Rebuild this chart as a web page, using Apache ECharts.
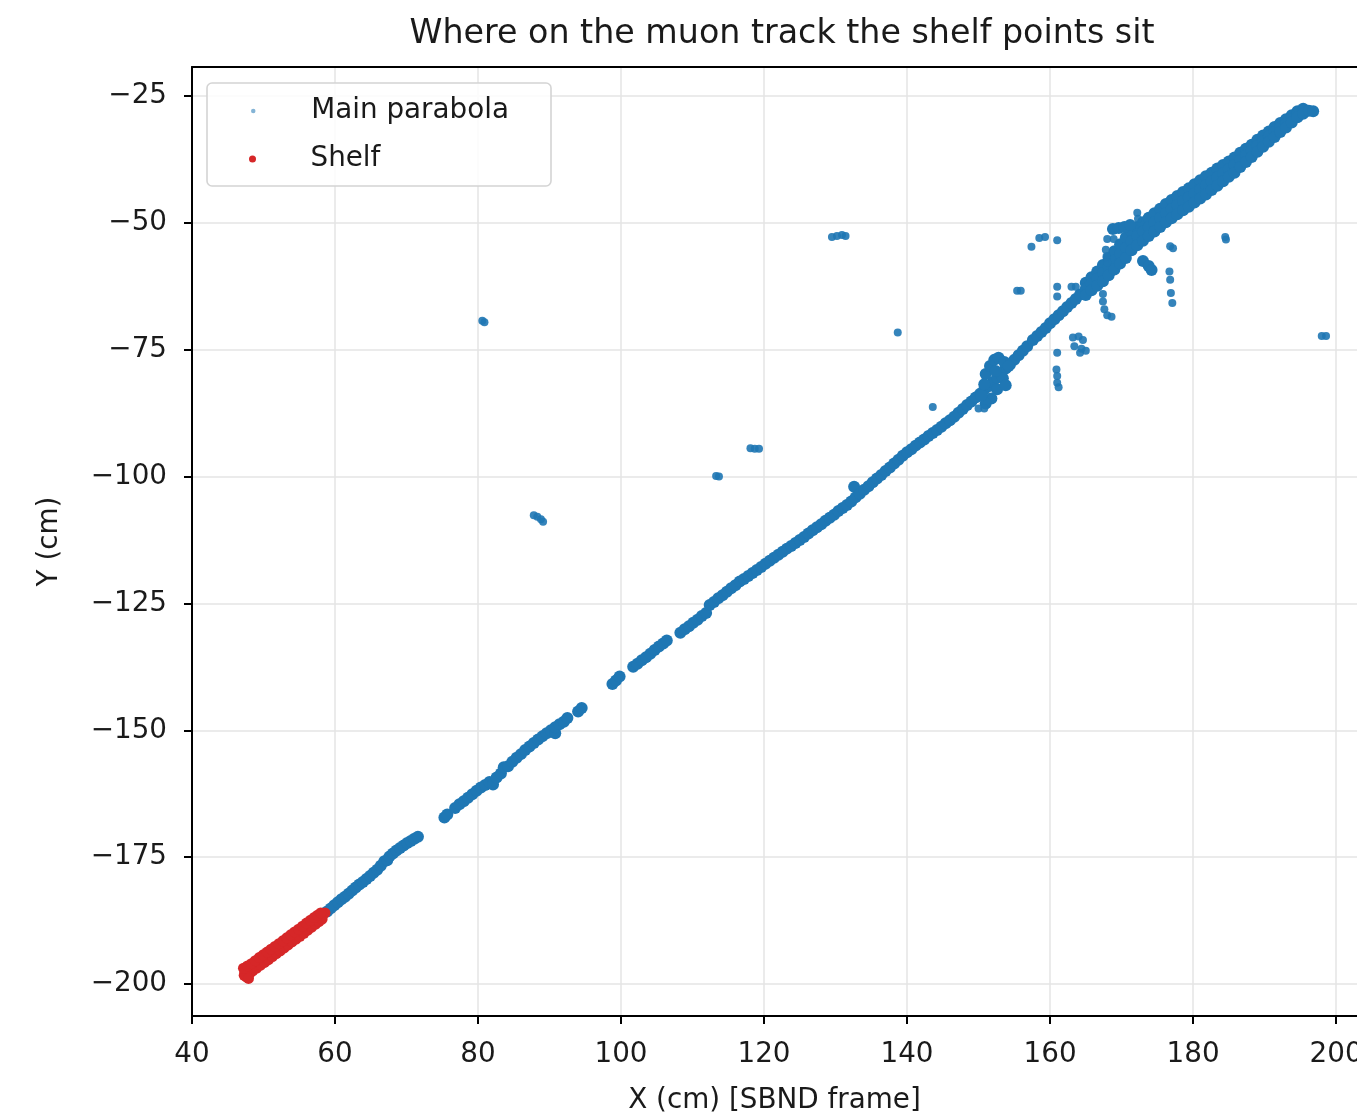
<!DOCTYPE html>
<html>
<head>
<meta charset="utf-8">
<script src="https://cdn.jsdelivr.net/npm/echarts@6/dist/echarts.min.js"></script>
<style>
  html, body { margin: 0; padding: 0; width: 100%; height: 100%; overflow: hidden; background: #ffffff; }
  #chart { position: absolute; left: 0; top: 0; width: 1357px; height: 1115px; }
</style>
</head>
<body>
<div id="chart"></div>
<script>
// Hits along the reconstructed muon track (X, Y in cm, SBND frame)
const mainTrack = [
  // lower section, just above the shelf
  [58.9,-185.7],[59.4,-185.1],[59.9,-184.5],[60.4,-183.9],[60.9,-183.3],[61.4,-182.8],[61.9,-182.2],
  [62.4,-181.6],[62.9,-181.0],[63.4,-180.4],[63.9,-179.9],[64.4,-179.3],[64.9,-178.7],[65.4,-178.1],
  [65.9,-177.5],[66.4,-176.7],[66.9,-175.8],[67.3,-175.6],[67.6,-174.9],[68.1,-174.3],[68.6,-173.7],
  [69.1,-173.2],[69.6,-172.7],[70.1,-172.2],[70.6,-171.8],[71.1,-171.4],[71.6,-171.0],
  [75.3,-167.2],[75.7,-166.6],
  [76.8,-165.3],[77.4,-164.6],[78.0,-164.0],[78.6,-163.3],[79.2,-162.6],[79.8,-161.9],[80.4,-161.3],
  [81.0,-160.8],[81.6,-160.2],[82.1,-160.7],[82.6,-159.3],[83.2,-158.5],[83.6,-157.3],[84.2,-157.1],
  [84.8,-156.2],[85.4,-155.4],[86.0,-154.7],[86.6,-153.9],[87.2,-153.2],[87.8,-152.5],[88.4,-151.8],
  [89.0,-151.2],[89.6,-150.6],[90.2,-150.0],[90.8,-150.6],[90.8,-149.4],[91.4,-148.8],[92.0,-148.3],
  [92.5,-147.6],
  [94.0,-146.3],[94.5,-145.6],
  [98.8,-140.9],[99.3,-140.2],[99.8,-139.4],
  [101.7,-137.5],[102.3,-136.9],[102.9,-136.2],[103.5,-135.6],[104.1,-134.9],[104.7,-134.2],
  [105.3,-133.5],[105.9,-132.9],[106.4,-132.3],
  [108.3,-130.8],[108.9,-130.1],[109.5,-129.5],[110.1,-128.8],[110.7,-128.2],[111.3,-127.5],[111.9,-126.9],
  // continuous section
  [112.4,-125.3],[113.0,-124.7],[113.6,-124.0],[114.2,-123.4],[114.8,-122.7],[115.4,-122.0],[116.0,-121.4],
  [116.6,-120.7],[117.2,-120.2],[117.8,-119.6],[118.4,-119.0],[119.0,-118.4],[119.6,-117.8],[120.2,-117.2],
  [120.8,-116.6],[121.4,-116.0],[122.0,-115.4],[122.6,-114.8],[123.2,-114.2],[123.8,-113.7],[124.4,-113.1],
  [125.0,-112.5],[125.6,-111.9],[126.2,-111.2],[126.8,-110.6],[127.4,-110.0],[128.0,-109.4],[128.6,-108.7],
  [129.2,-108.1],[129.8,-107.5],[130.4,-106.8],[131.0,-106.2],[131.6,-105.6],[132.2,-104.9],[132.6,-102.0],
  [132.8,-104.1],[133.4,-103.4],[134.0,-102.6],[134.6,-101.9],[135.2,-101.1],[135.8,-100.4],[136.4,-99.7],
  [137.0,-98.9],[137.6,-98.2],[138.2,-97.4],[138.8,-96.7],[139.4,-95.9],[140.0,-95.2],[140.6,-94.6],
  [141.2,-93.9],[141.8,-93.3],[142.4,-92.7],[143.0,-92.0],[143.6,-91.4],[144.2,-90.8],[144.8,-90.2],
  [145.4,-89.5],[146.0,-88.9],[146.6,-88.2],[147.2,-87.4],[147.8,-86.7],[148.4,-85.9],[149.0,-85.2],
  [149.6,-84.4],[150.2,-83.7],[150.8,-82.9],[151.4,-82.2],[152.0,-81.4],[152.6,-80.5],[153.2,-79.6],
  [153.8,-78.7],[154.4,-77.9],[155.0,-77.0],[155.6,-76.1],[156.2,-75.2],[156.8,-74.3],[157.6,-73.1],
  [158.2,-72.3],[158.8,-71.5],[159.4,-70.7],[160.0,-69.8],[160.6,-69.0],[161.2,-68.2],[161.8,-67.4],
  [162.4,-66.6],[163.0,-65.8],[163.6,-65.0],[164.2,-64.1]
];

// Dense upper section of the track, read as three rows across its width
const upperBand = [
  [165.0,-61.8],[165.0,-63.0],[165.0,-64.2],[165.8,-60.7],[165.8,-62.0],[165.8,-63.3],
  [166.6,-59.6],[166.6,-61.0],[166.6,-62.4],[167.4,-58.3],[167.4,-59.9],[167.4,-61.5],
  [168.2,-56.9],[168.2,-58.6],[168.2,-60.3],[169.0,-55.6],[169.0,-57.4],[169.0,-59.2],
  [169.8,-54.2],[169.8,-56.1],[169.8,-58.0],[170.6,-52.9],[170.6,-54.9],[170.6,-56.9],
  [171.4,-51.8],[171.4,-53.6],[171.4,-55.4],[172.2,-50.8],[172.2,-52.6],[172.2,-54.4],
  [173.0,-49.9],[173.0,-51.7],[173.0,-53.5],[173.8,-49.0],[173.8,-50.8],[173.8,-52.6],
  [174.6,-48.1],[174.6,-49.9],[174.6,-51.7],[175.4,-47.2],[175.4,-49.0],[175.4,-50.8],
  [176.2,-46.3],[176.2,-48.1],[176.2,-49.9],[177.0,-45.5],[177.0,-47.3],[177.0,-49.1],
  [177.8,-44.7],[177.8,-46.5],[177.8,-48.3],[178.6,-43.9],[178.6,-45.7],[178.6,-47.5],
  [179.4,-43.2],[179.4,-45.0],[179.4,-46.8],[180.2,-42.4],[180.2,-44.2],[180.2,-46.0],
  [181.0,-41.6],[181.0,-43.4],[181.0,-45.2],[181.8,-40.8],[181.8,-42.6],[181.8,-44.4],
  [182.6,-40.1],[182.6,-41.8],[182.6,-43.5],[183.4,-39.3],[183.4,-41.0],[183.4,-42.7],
  [184.2,-38.6],[184.2,-40.2],[184.2,-41.8],[185.0,-37.9],[185.0,-39.4],[185.0,-40.9],
  [185.8,-37.1],[185.8,-38.6],[185.8,-40.1],[186.6,-36.2],[186.6,-37.6],[186.6,-39.0],
  [187.4,-35.4],[187.4,-36.7],[187.4,-38.0],[188.2,-34.6],[188.2,-35.8],[188.2,-37.0],
  [189.0,-33.6],[189.0,-34.8],[189.0,-36.0],[189.8,-32.8],[189.8,-33.9],[189.8,-35.0],
  [190.6,-32.0],[190.6,-33.0],[190.6,-34.0],[191.4,-31.1],[191.4,-32.1],[191.4,-33.1],
  [192.2,-30.3],[192.2,-31.2],[192.2,-32.1],[193.0,-29.6],[193.0,-30.4],[193.0,-31.2],
  [193.8,-28.8],[193.8,-29.5],[193.8,-30.2],[194.6,-28.0],[194.6,-28.6],[194.6,-29.2],
  [195.4,-27.5],[195.4,-28.0],[195.4,-28.5],[196.2,-27.9],[196.8,-28.0],
  // ledge on the upper side and lumps under the band
  [168.8,-51.2],[169.6,-51.0],[170.4,-50.8],[171.2,-50.4],
  [173.0,-57.5],[173.8,-58.5],[174.2,-59.3]
];

// Blob around x = 152 where the track widens
const trackBlob = [
  [151.0,-79.8],[151.6,-78.2],[152.2,-77.0],[152.8,-76.6],[153.6,-77.4],[154.2,-78.2],[153.4,-80.6],
  [152.6,-82.8],[151.8,-84.6],[151.0,-85.6],[150.4,-84.0],[152.4,-79.2],[153.8,-82.0],[150.8,-81.8]
];

// Isolated clusters away from the track
const offTrackHits = [
  [80.6,-69.3],[80.9,-69.6],
  [87.8,-107.6],[88.3,-107.9],[88.8,-108.4],[89.1,-108.9],
  [113.3,-99.9],[113.7,-100.0],
  [118.1,-94.4],[118.7,-94.5],[119.3,-94.5],
  [129.5,-52.8],[130.2,-52.6],[130.9,-52.4],[131.4,-52.6],
  [138.7,-71.6],
  [143.6,-86.3],
  [150.0,-86.6],[150.8,-86.6],
  [155.4,-63.4],[155.9,-63.4],
  [157.4,-54.7],[158.5,-53.0],[159.3,-52.8],[161.0,-53.4],
  [161.0,-62.6],[161.0,-64.5],[163.0,-62.6],[163.6,-62.6],
  [161.0,-75.6],[160.9,-78.9],[161.0,-80.2],[161.0,-81.5],[161.2,-82.4],
  [163.2,-72.6],[164.0,-72.4],[164.6,-73.1],[163.4,-74.3],[164.4,-74.8],[165.0,-75.2],[164.2,-75.6],
  [167.4,-64.0],[167.4,-65.5],[167.6,-67.0],[168.0,-68.2],[168.6,-68.5],
  [168.0,-53.2],[168.9,-53.2],[167.8,-55.3],[167.9,-56.6],[168.0,-57.8],
  [172.2,-48.0],[172.3,-49.2],
  [176.8,-54.6],[177.2,-55.0],[176.7,-59.6],[176.8,-61.2],[176.9,-63.8],[177.1,-65.8],
  [184.5,-52.8],[184.6,-53.3],
  [198.0,-72.3],[198.6,-72.3]
];

// Hits classified as the shelf
const shelfPoints = [
  [47.4,-197.7],[47.8,-197.3],[48.2,-196.9],[48.6,-196.5],[49.0,-196.1],[49.4,-195.6],[49.8,-195.2],
  [50.2,-194.8],[50.6,-194.4],[51.0,-194.0],[51.4,-193.5],[51.8,-193.1],[52.2,-192.7],[52.6,-192.3],
  [53.0,-191.8],[53.4,-191.4],[53.8,-191.0],[54.2,-190.6],[54.6,-190.1],[55.0,-189.7],[55.4,-189.3],
  [55.8,-188.9],[56.2,-188.5],[56.6,-188.1],[57.0,-187.6],[57.4,-187.2],[57.8,-186.8],[58.2,-186.4],
  [58.6,-186.0],
  // lower edge of the shelf
  [47.6,-198.6],[48.05,-198.0],[48.5,-197.4],[49.05,-196.85],[49.6,-196.3],[50.15,-195.75],[50.7,-195.2],
  [51.25,-194.6],[51.8,-194.0],[52.35,-193.45],[52.9,-192.9],[53.45,-192.3],[54.0,-191.7],[54.55,-191.15],
  [55.1,-190.6],[55.65,-190.0],[56.2,-189.4],[56.75,-188.8],[57.3,-188.2],[57.75,-187.7],[58.2,-187.2],
  [47.3,-198.3],[47.9,-198.9],
  // upper edge of the shelf
  [47.2,-196.9],[47.75,-196.45],[48.3,-196.0],[48.85,-195.4],[49.4,-194.8],[49.95,-194.25],[50.5,-193.7],
  [51.05,-193.15],[51.6,-192.6],[52.15,-192.05],[52.7,-191.5],[53.25,-190.9],[53.8,-190.3],[54.35,-189.75],
  [54.9,-189.2],[55.45,-188.6],[56.0,-188.0],[56.55,-187.45],[57.1,-186.9],[57.55,-186.45],[58.0,-186.0]
];

const xTicks = [40, 60, 80, 100, 120, 140, 160, 180, 200];
const yTicks = [-200, -175, -150, -125, -100, -75, -50, -25];

const FONT = '"DejaVu Sans", "Noto Sans", sans-serif';
const TEXT = '#1a1a1a';
const BLUE = '#1f77b4';
const RED = '#d62728';

const chart = echarts.init(document.getElementById('chart'), null, { renderer: 'canvas', width: 1357, height: 1115 });

const axisText = { fontFamily: FONT, fontSize: 27.8, color: TEXT };

chart.setOption({
  animation: false,
  backgroundColor: '#ffffff',
  // the plot frame runs past the right edge, so labels are not kept inside the canvas
  grid: { left: 192, top: 67, right: 0, bottom: 99, containLabel: false, outerBoundsMode: 'none' },
  xAxis: [
    {
      type: 'value',
      min: 40, max: 202.93, interval: 20,
      position: 'bottom',
      name: 'X (cm) [SBND frame]',
      nameLocation: 'middle',
      nameGap: 71,
      nameTextStyle: axisText,
      axisLine: { show: true, onZero: false, lineStyle: { color: '#000', width: 2 } },
      axisTick: { show: true, length: 8, lineStyle: { color: '#000', width: 2 }, customValues: xTicks },
      axisLabel: { ...axisText, margin: 25, customValues: xTicks },
      splitLine: { show: true, lineStyle: { color: '#e4e4e4', width: 1.5 } }
    },
    {
      type: 'value',
      min: 40, max: 202.93,
      position: 'top',
      axisLine: { show: true, onZero: false, lineStyle: { color: '#000', width: 2 } },
      axisTick: { show: false },
      axisLabel: { show: false },
      splitLine: { show: false }
    }
  ],
  yAxis: {
    type: 'value',
    min: -206.31, max: -19.28,
    name: 'Y (cm)',
    nameLocation: 'middle',
    nameGap: 128,
    nameTextStyle: axisText,
    axisLine: { show: true, onZero: false, lineStyle: { color: '#000', width: 2 } },
    axisTick: { show: true, length: 8, lineStyle: { color: '#000', width: 2 }, customValues: yTicks },
    axisLabel: {
      ...axisText, margin: 25, customValues: yTicks,
      formatter: v => String(v).replace('-', '\u2212')
    },
    splitLine: { show: true, lineStyle: { color: '#e4e4e4', width: 1.5 } }
  },
  legend: [
    {
      data: [{ name: 'Main parabola', icon: 'circle', itemStyle: { color: BLUE, opacity: 0.55 } }],
      left: 246, top: 92, orient: 'vertical',
      itemWidth: 106, itemHeight: 4.5, itemGap: 0,
      textStyle: { fontFamily: FONT, fontSize: 27.8, color: TEXT },
      selectedMode: false, z: 10
    },
    {
      data: [{ name: 'Shelf', icon: 'circle', itemStyle: { color: RED } }],
      left: 244, top: 140, orient: 'vertical',
      itemWidth: 106, itemHeight: 7, itemGap: 0,
      textStyle: { fontFamily: FONT, fontSize: 27.8, color: TEXT },
      selectedMode: false, z: 10
    }
  ],
  graphic: [
    {
      type: 'rect', z: 9, silent: true,
      shape: { x: 207, y: 83, width: 344, height: 103, r: 5 },
      style: { fill: 'rgba(255,255,255,0.85)', stroke: '#d4d4d4', lineWidth: 1.6 }
    },
    {
      type: 'text', z: 10, silent: true,
      x: 782, y: 34,
      style: {
        text: 'Where on the muon track the shelf points sit',
        font: '33.3px ' + FONT, fill: TEXT,
        textAlign: 'center', textVerticalAlign: 'middle'
      }
    }
  ],
  series: [
    {
      name: 'Main parabola',
      type: 'scatter',
      symbol: 'circle',
      symbolSize: 12,
      itemStyle: { color: BLUE, opacity: 1 },
      data: mainTrack.concat(upperBand, trackBlob),
      z: 2
    },
    {
      name: 'Main parabola',
      type: 'scatter',
      symbol: 'circle',
      symbolSize: 8,
      itemStyle: { color: BLUE, opacity: 0.9 },
      data: offTrackHits,
      z: 2
    },
    {
      name: 'Shelf',
      type: 'scatter',
      symbol: 'circle',
      symbolSize: 11,
      itemStyle: { color: RED, opacity: 1 },
      data: shelfPoints,
      z: 3
    }
  ]
});
</script>
</body>
</html>
